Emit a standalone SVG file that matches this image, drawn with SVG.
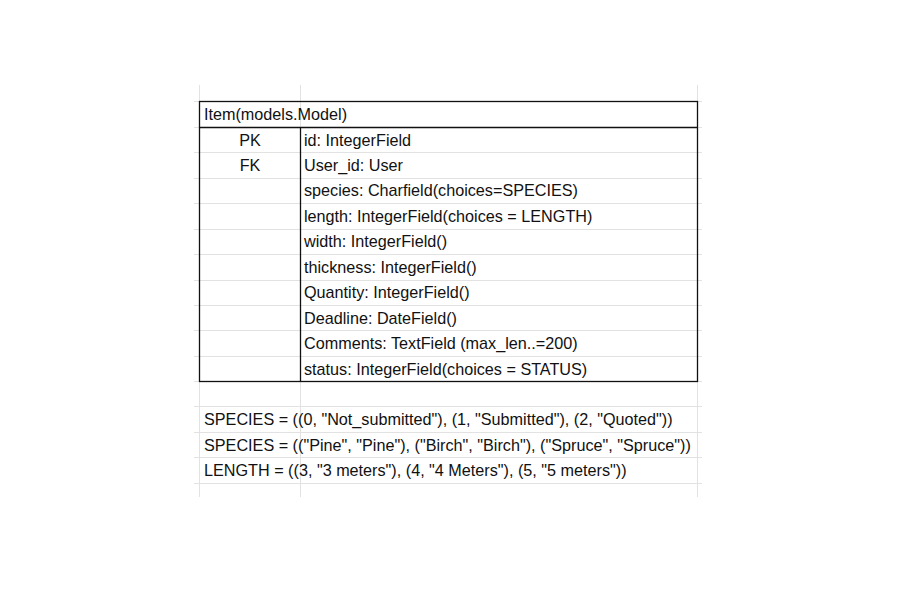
<svg xmlns="http://www.w3.org/2000/svg" width="900" height="600" viewBox="0 0 900 600">
<style>
.g{stroke:#e2e2e2;stroke-width:1;fill:none}
.b{stroke:#111;stroke-width:1.3;fill:none}
text{font-family:"Liberation Sans",Arial,sans-serif;font-size:16.2px;fill:#111}
.c{text-anchor:middle}
</style>
<rect width="900" height="600" fill="#fff"/>
<g id="grid">
<line class="g" x1="199.5" y1="85" x2="199.5" y2="497"/>
<line class="g" x1="300.5" y1="85" x2="300.5" y2="497"/>
<line class="g" x1="697.5" y1="85" x2="697.5" y2="497"/>
<line class="g" x1="194" y1="101.5" x2="702" y2="101.5"/>
<line class="g" x1="194" y1="127.5" x2="702" y2="127.5"/>
<line class="g" x1="194" y1="152.5" x2="702" y2="152.5"/>
<line class="g" x1="194" y1="178.5" x2="702" y2="178.5"/>
<line class="g" x1="194" y1="203.5" x2="702" y2="203.5"/>
<line class="g" x1="194" y1="229.5" x2="702" y2="229.5"/>
<line class="g" x1="194" y1="254.5" x2="702" y2="254.5"/>
<line class="g" x1="194" y1="280.5" x2="702" y2="280.5"/>
<line class="g" x1="194" y1="305.5" x2="702" y2="305.5"/>
<line class="g" x1="194" y1="330.5" x2="702" y2="330.5"/>
<line class="g" x1="194" y1="356.5" x2="702" y2="356.5"/>
<line class="g" x1="194" y1="381.5" x2="702" y2="381.5"/>
<line class="g" x1="194" y1="406.5" x2="702" y2="406.5"/>
<line class="g" x1="194" y1="432.5" x2="702" y2="432.5"/>
<line class="g" x1="194" y1="457.5" x2="702" y2="457.5"/>
<line class="g" x1="194" y1="483.5" x2="702" y2="483.5"/>
</g>
<g id="item-table">
<rect class="b" x="199.5" y="101.5" width="498" height="280"/>
<line class="b" x1="199.5" y1="127.5" x2="697.5" y2="127.5"/>
<line class="b" x1="300.5" y1="127.5" x2="300.5" y2="381.5"/>
<text x="204" y="120">Item(models.Model)</text>
<text class="c" x="250" y="146">PK</text>
<text x="304" y="146">id: IntegerField</text>
<text class="c" x="250" y="171">FK</text>
<text x="304" y="171">User_id: User</text>
<text x="304" y="196">species: Charfield(choices=SPECIES)</text>
<text x="304" y="222">length: IntegerField(choices = LENGTH)</text>
<text x="304" y="247">width: IntegerField()</text>
<text x="304" y="273">thickness: IntegerField()</text>
<text x="304" y="298">Quantity: IntegerField()</text>
<text x="304" y="324">Deadline: DateField()</text>
<text x="304" y="349">Comments: TextField (max_len..=200)</text>
<text x="304" y="375">status: IntegerField(choices = STATUS)</text>
</g>
<g id="choices">
<text x="204" y="425">SPECIES = ((0, "Not_submitted"), (1, "Submitted"), (2, "Quoted"))</text>
<text x="204" y="451">SPECIES = (("Pine", "Pine"), ("Birch", "Birch"), ("Spruce", "Spruce"))</text>
<text x="204" y="476">LENGTH = ((3, "3 meters"), (4, "4 Meters"), (5, "5 meters"))</text>
</g>
</svg>
